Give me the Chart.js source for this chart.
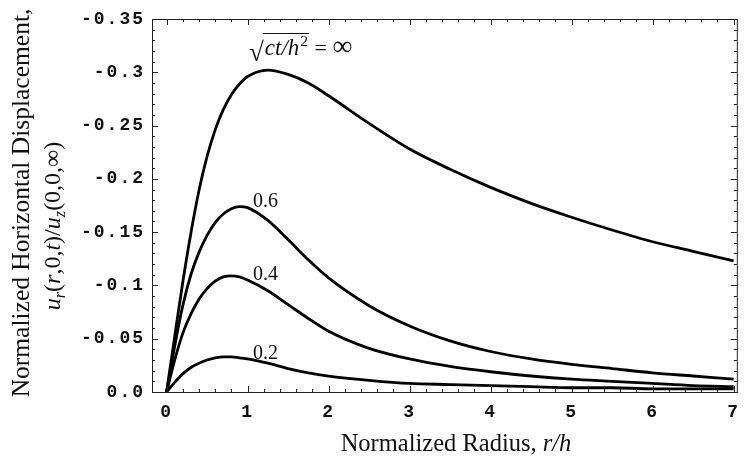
<!DOCTYPE html>
<html>
<head>
<meta charset="utf-8">
<script src="https://cdn.jsdelivr.net/npm/chart.js@4"></script>
<style>
  html, body { margin: 0; padding: 0; background: #fff; }
  #wrap { width: 749px; height: 462px; }
</style>
</head>
<body>
<div id="wrap"><canvas id="chart" width="749" height="462"></canvas></div>
<script>
// r/h sample positions
const radius = [0, 0.1, 0.2, 0.3, 0.4, 0.5, 0.6, 0.7, 0.8, 0.9, 1.0, 1.25, 1.5, 1.75, 2, 2.5, 3, 3.5, 4, 4.5, 5, 5.5, 6, 6.5, 7];

// u_r(r,0,t)/u_z(0,0,inf) for each sqrt(ct/h^2)
const dispInf = [0, -0.052, -0.103, -0.149, -0.189, -0.221, -0.246, -0.265, -0.279, -0.289, -0.296, -0.302, -0.298, -0.290, -0.278, -0.252, -0.228, -0.209, -0.192, -0.177, -0.164, -0.152, -0.141, -0.132, -0.123];
const disp06 = [0, -0.043, -0.081, -0.110, -0.131, -0.147, -0.159, -0.167, -0.172, -0.174, -0.173, -0.161, -0.143, -0.124, -0.107, -0.081, -0.062, -0.048, -0.038, -0.031, -0.026, -0.022, -0.018, -0.015, -0.012];
const disp04 = [0, -0.030, -0.055, -0.073, -0.087, -0.097, -0.104, -0.108, -0.109, -0.108, -0.105, -0.095, -0.082, -0.069, -0.057, -0.041, -0.031, -0.024, -0.019, -0.015, -0.012, -0.010, -0.008, -0.006, -0.005];
const disp02 = [0, -0.009, -0.017, -0.023, -0.027, -0.030, -0.032, -0.033, -0.033, -0.032, -0.031, -0.027, -0.022, -0.018, -0.015, -0.011, -0.008, -0.007, -0.006, -0.005, -0.004, -0.004, -0.003, -0.003, -0.003];

const xTicks = [0, 1, 2, 3, 4, 5, 6, 7];
const xTickLabels = ["0", "1", "2", "3", "4", "5", "6", "7"];
const yTicks = [-0.35, -0.3, -0.25, -0.2, -0.15, -0.1, -0.05, 0];
const yTickLabels = ["-0.35", "-0.3", "-0.25", "-0.2", "-0.15", "-0.1", "-0.05", "0.0"];

const curveLabels = [
  { text: "0.6", x: 253, y: 207 },
  { text: "0.4", x: 253, y: 280 },
  { text: "0.2", x: 253, y: 359 },
];

const SERIF = '"Liberation Serif", "Times New Roman", serif';
const MONO = '"Liberation Mono", monospace';
const INK = "#111";

function pts(ys) {
  return radius.map((x, i) => ({ x, y: ys[i] }));
}

function series(ys) {
  return {
    data: pts(ys),
    borderColor: "#000",
    borderWidth: 2.8,
    pointRadius: 0,
    fill: false,
    cubicInterpolationMode: "monotone",
  };
}

// draw a run of text pieces (italic / subscript / superscript) starting at x
function drawRich(ctx, parts, x, y, size, measureOnly) {
  let cx = x;
  for (const p of parts) {
    const s = p.size || (p.sub || p.sup ? size * 0.68 : size);
    ctx.font = `${p.italic ? "italic " : ""}${s}px ${SERIF}`;
    const dy = p.sub ? size * 0.22 : p.sup ? -size * 0.38 : 0;
    if (!measureOnly) ctx.fillText(p.t, cx, y + dy);
    cx += ctx.measureText(p.t).width + (p.gap || 0);
  }
  return cx - x;
}

const framePlugin = {
  id: "frame",
  beforeDraw(chart) {
    chart.ctx.letterSpacing = "2px";
  },
  beforeDatasetsDraw(chart) {
    chart.ctx.letterSpacing = "0px";
  },
  afterDatasetsDraw(chart) {
    const { ctx, chartArea: a, scales } = chart;
    const xs = scales.x, ys = scales.y;
    ctx.save();
    ctx.letterSpacing = "0px";
    ctx.strokeStyle = "#222";
    ctx.lineWidth = 1;
    ctx.strokeRect(a.left + 0.5, a.top + 0.5, a.right - a.left, a.bottom - a.top);

    // inward ticks on all four sides
    ctx.beginPath();
    for (let i = -1; i <= 35; i++) {
      const v = i * 0.2;
      if (v < xs.min || v > xs.max) continue;
      const px = Math.round(xs.getPixelForValue(v)) + 0.5;
      const len = i % 5 === 0 ? 6 : 3;
      ctx.moveTo(px, a.bottom); ctx.lineTo(px, a.bottom - len);
      ctx.moveTo(px, a.top); ctx.lineTo(px, a.top + len);
    }
    for (let i = 0; i <= 35; i++) {
      const v = -i * 0.01;
      const py = Math.round(ys.getPixelForValue(v)) + 0.5;
      const len = i % 5 === 0 ? 6 : 3;
      ctx.moveTo(a.left, py); ctx.lineTo(a.left + len, py);
      ctx.moveTo(a.right, py); ctx.lineTo(a.right - len, py);
    }
    ctx.stroke();
    ctx.restore();
  },
  afterDraw(chart) {
    const { ctx } = chart;
    ctx.save();
    ctx.letterSpacing = "0px";
    ctx.fillStyle = INK;
    ctx.textBaseline = "alphabetic";
    ctx.textAlign = "left";

    // curve labels
    ctx.font = `20px ${SERIF}`;
    curveLabels.forEach((l) => ctx.fillText(l.text, l.x, l.y));

    // sqrt(ct/h^2) = inf label
    ctx.font = `27px ${SERIF}`;
    ctx.fillText("\u221A", 249, 61);
    const rx = 249 + ctx.measureText("\u221A").width;
    const w = drawRich(ctx, [
      { t: "ct/h", italic: true, gap: 1 },
      { t: "2", sup: true },
    ], rx + 1, 55, 23);
    ctx.strokeStyle = INK;
    ctx.lineWidth = 1.2;
    ctx.beginPath();
    ctx.moveTo(rx - 1, 33.5);
    ctx.lineTo(rx + w + 2, 33.5);
    ctx.stroke();
    drawRich(ctx, [{ t: " = " }, { t: "\u221E", size: 28 }], rx + w + 2, 55, 22);

    // x axis title
    const xParts = [{ t: "Normalized Radius, " }, { t: "r/h", italic: true }];
    const xw = drawRich(ctx, xParts, 0, 0, 24.5, true);
    drawRich(ctx, xParts, 456 - xw / 2, 451, 24.5);

    // y axis title, two lines rotated
    ctx.save();
    ctx.rotate(-Math.PI / 2);
    const l1 = [{ t: "Normalized Horizontal Displacement," }];
    const w1 = drawRich(ctx, l1, 0, 0, 25.5, true);
    drawRich(ctx, l1, -203 - w1 / 2, 29, 25.5);
    const l2 = [
      { t: "u", italic: true }, { t: "r", italic: true, sub: true },
      { t: "(" }, { t: "r", italic: true }, { t: ",0," }, { t: "t", italic: true }, { t: ")/" },
      { t: "u", italic: true }, { t: "z", italic: true, sub: true },
      { t: "(0,0,\u221E)" },
    ];
    const w2 = drawRich(ctx, l2, 0, 0, 24, true);
    drawRich(ctx, l2, -226 - w2 / 2, 60, 24);
    ctx.restore();

    ctx.restore();
  },
};

new Chart(document.getElementById("chart"), {
  type: "line",
  data: {
    datasets: [series(dispInf), series(disp06), series(disp04), series(disp02)],
  },
  options: {
    responsive: false,
    animation: false,
    events: [],
    layout: { padding: { top: 19, right: 4, left: 0, bottom: 0 } },
    plugins: { legend: { display: false }, tooltip: { enabled: false } },
    scales: {
      x: {
        type: "linear",
        min: -0.18,
        max: 7.04,
        grid: { display: false, drawTicks: false },
        border: { display: false },
        afterBuildTicks: (s) => { s.ticks = xTicks.map((v) => ({ value: v })); },
        afterFit: (s) => { s.height = 70; },
        ticks: {
          autoSkip: false,
          maxRotation: 0,
          padding: 10,
          color: INK,
          font: { family: MONO, size: 18, weight: "bold" },
          callback: (v) => xTickLabels[xTicks.indexOf(v)] ?? "",
        },
      },
      y: {
        type: "linear",
        reverse: true,
        min: -0.35,
        max: 0,
        grid: { display: false, drawTicks: false },
        border: { display: false },
        afterBuildTicks: (s) => { s.ticks = yTicks.map((v) => ({ value: v })); },
        afterFit: (s) => { s.width = 152; },
        ticks: {
          autoSkip: false,
          padding: 7,
          color: INK,
          font: { family: MONO, size: 18, weight: "bold" },
          callback: (v) => {
            const i = yTicks.findIndex((t) => Math.abs(t - v) < 1e-9);
            return i >= 0 ? yTickLabels[i] : "";
          },
        },
      },
    },
  },
  plugins: [framePlugin],
});
</script>
</body>
</html>
